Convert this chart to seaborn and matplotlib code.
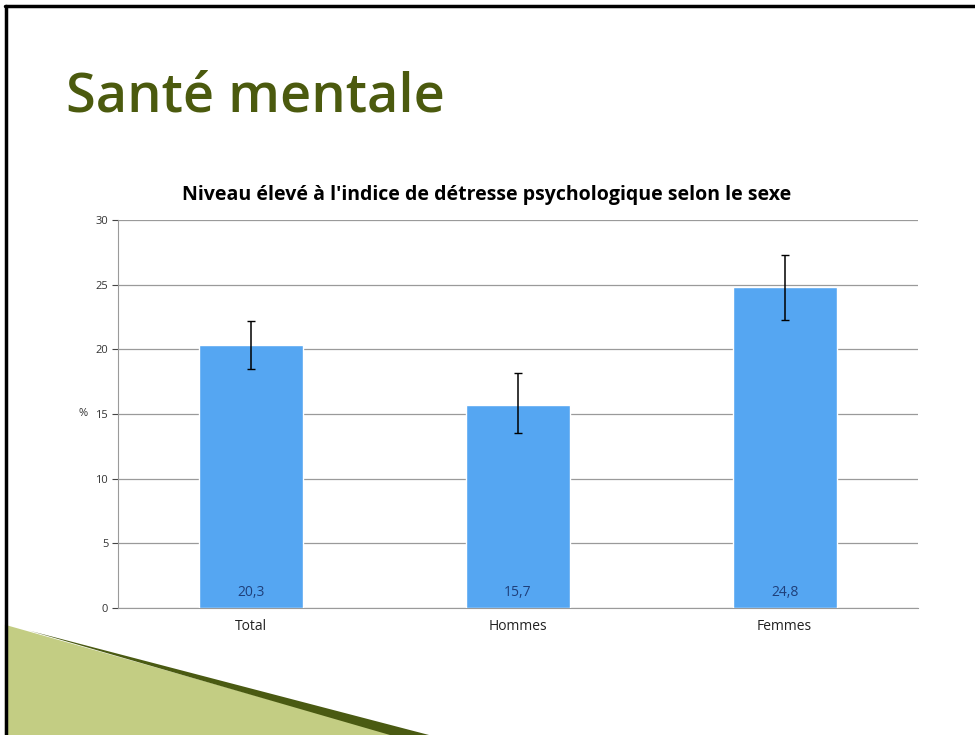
import seaborn as sns
import matplotlib.pyplot as plt
import matplotlib.patches as mpatches
import pandas as pd

# données
categories = ['Total', 'Hommes', 'Femmes']
valeurs = [20.3, 15.7, 24.8]
bas = [18.5, 13.5, 22.3]      # borne inférieure de l'intervalle
haut = [22.2, 18.2, 27.3]     # borne supérieure de l'intervalle
etiquettes = ['20,3', '15,7', '24,8']
yticks = [0, 5, 10, 15, 20, 25, 30]

df = pd.DataFrame({'sexe': categories, 'pct': valeurs})

sns.set_style('white')
plt.rcParams['font.family'] = ['Open Sans', 'DejaVu Sans']

fig = plt.figure(figsize=(9.75, 7.35), dpi=100)
ax = fig.add_axes([0.121, 0.1728, 0.8205, 0.528])

sns.barplot(data=df, x='sexe', y='pct', color='#55a6f2', width=0.39,
            saturation=1, errorbar=None, ax=ax, zorder=3)

# barres d'erreur asymétriques
err = [[v - b for v, b in zip(valeurs, bas)], [h - v for v, h in zip(valeurs, haut)]]
ax.errorbar(range(len(categories)), valeurs, yerr=err, fmt='none',
            ecolor='black', elinewidth=1.1, capsize=3, capthick=1, zorder=4)

# étiquettes de valeurs au pied des barres
for i, t in enumerate(etiquettes):
    ax.text(i, 0.6, t, ha='center', va='bottom', fontsize=10, color='#1f3f7a', zorder=5)

ax.set_ylim(0, 30)
ax.set_xlim(-0.5, 2.5)
ax.set_yticks(yticks)
ax.yaxis.grid(True, color='#9a9a9a', linewidth=0.9)
ax.set_axisbelow(True)
ax.tick_params(axis='y', labelsize=8, colors='#444444', length=4, direction='out', left=True,
               width=0.8, pad=3)
ax.tick_params(axis='x', labelsize=10, colors='#222222', length=0, pad=8)
for lbl in ax.get_yticklabels():
    lbl.set_color('#333333')
for s in ['top', 'right']:
    ax.spines[s].set_visible(False)
ax.spines['left'].set_color('#9a9a9a')
ax.spines['bottom'].set_color('#9a9a9a')
ax.set_xlabel('')
ax.set_ylabel('%', rotation=0, fontsize=8, color='#333333', va='center', ha='center')
ax.yaxis.set_label_coords(-0.044, 0.5)

ax.set_title("Niveau élevé à l'indice de détresse psychologique selon le sexe",
             fontsize=14, fontweight='bold', color='black', pad=14, x=0.461)

# titre de la diapositive
fig.text(0.068, 0.868, 'Santé mentale', fontsize=39, color='#4b5a0e', ha='left', va='center',
         fontweight='semibold')

# décor en bas à gauche
fig.patches.append(mpatches.Polygon([[0.005, 0.150], [0.405, 0.0], [0.005, 0.0]],
                                    closed=True, transform=fig.transFigure,
                                    facecolor='#c3cd83', edgecolor='none', zorder=0))
fig.patches.append(mpatches.Polygon([[0.03, 0.142], [0.44, 0.0], [0.40, 0.0]],
                                    closed=True, transform=fig.transFigure,
                                    facecolor='#4a5a12', edgecolor='none', zorder=0))

# cadre noir (haut et gauche)
fig.add_artist(plt.Line2D([0.005, 1.0], [0.992, 0.992], transform=fig.transFigure,
                          color='black', linewidth=2.5))
fig.add_artist(plt.Line2D([0.0065, 0.0065], [0.0, 0.992], transform=fig.transFigure,
                          color='black', linewidth=2.5))

plt.savefig('out.png', dpi=100)
